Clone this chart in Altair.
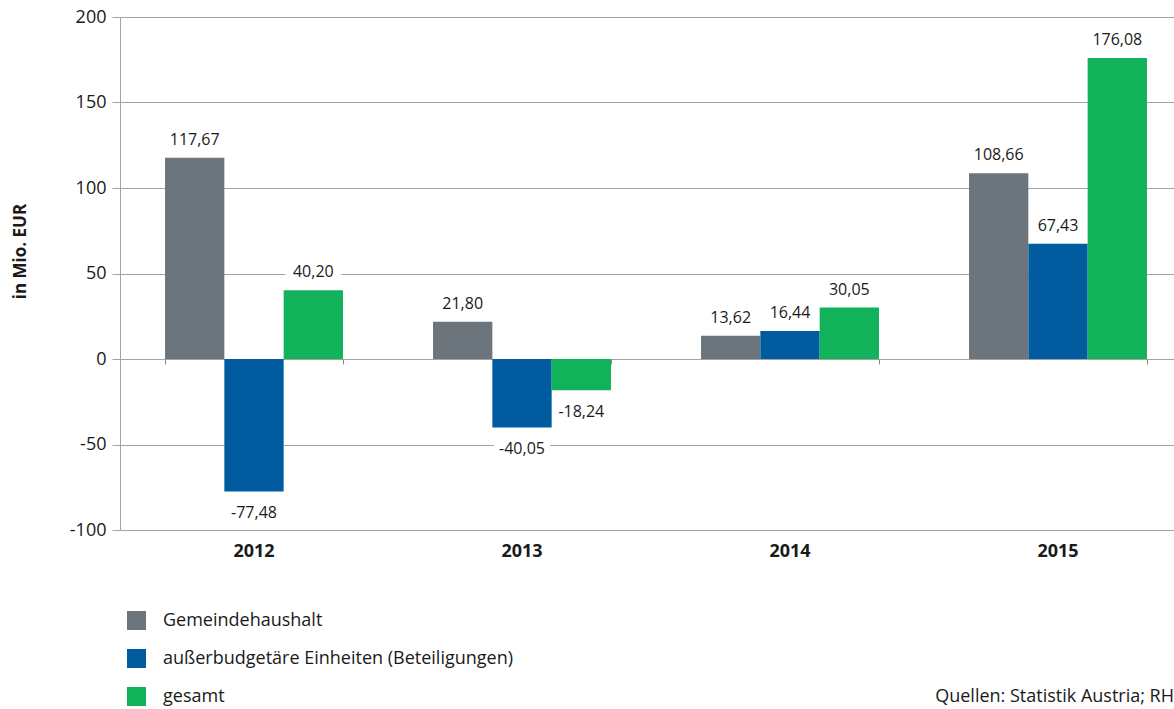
import altair as alt
import pandas as pd

years = ["2012", "2013", "2014", "2015"]
series = ["Gemeindehaushalt", "außerbudgetäre Einheiten (Beteiligungen)", "gesamt"]
gemeinde = [117.67, 21.80, 13.62, 108.66]
ausser = [-77.48, -40.05, 16.44, 67.43]
gesamt = [40.20, -18.24, 30.05, 176.08]
colors = ["#6B757B", "#005C9F", "#11B259"]
y_ticks = [-100, -50, 0, 50, 100, 150, 200]
source = "Quellen: Statistik Austria; RH"

rows = []
for s, vals in zip(series, [gemeinde, ausser, gesamt]):
    for yr, v in zip(years, vals):
        rows.append({"Jahr": yr, "Serie": s, "Wert": v,
                     "Label": f"{v:.2f}".replace(".", ",")})
df = pd.DataFrame(rows)

FONT = "Open Sans"
TXT = "#1a1a1a"
GRID = "#a3a3a3"

x_scale = alt.Scale(domain=years, range=[0, 1072], paddingInner=0.336, paddingOuter=0.168)
y_scale = alt.Scale(domain=[-100, 200], nice=False, zero=False)
xo_scale = alt.Scale(domain=series, paddingInner=0, paddingOuter=0)
color_scale = alt.Scale(domain=series, range=colors)

base = alt.Chart(df)

y_enc = alt.Y("Wert:Q", scale=y_scale,
              axis=alt.Axis(values=y_ticks, title="in Mio. EUR", grid=True,
                            labelExpr="'' + datum.value",
                            gridColor=GRID, gridWidth=1, domainColor=GRID,
                            tickColor=GRID, tickSize=8, labelPadding=6,
                            labelFontSize=18, labelFont=FONT, labelColor=TXT,
                            titleFont=FONT, titleFontSize=17, titleFontWeight="bold",
                            titleColor=TXT, titleX=-100, titleY=234,
                            titleAngle=-90, titleAlign="center", titleBaseline="middle"))

bars = base.mark_bar().encode(
    x=alt.X("Jahr:N", scale=x_scale, sort=years,
            axis=alt.Axis(title=None, domain=False, ticks=False, tickSize=0,
                          labelPadding=12, labelFontSize=18, labelFont=FONT,
                          labelFontWeight="bold", labelColor=TXT, labelAngle=0,
                          labelBaseline="top", orient="bottom")),
    xOffset=alt.XOffset("Serie:N", scale=xo_scale, sort=series),
    y=y_enc,
    color=alt.Color("Serie:N", scale=color_scale, sort=series,
                    legend=alt.Legend(title=None, orient="none", legendX=7, legendY=594,
                                      direction="vertical", symbolType="square",
                                      symbolSize=361, symbolStrokeWidth=0,
                                      symbolOpacity=1, labelFontSize=18, labelFont=FONT,
                                      labelColor=TXT, labelOffset=17, rowPadding=19,
                                      padding=0, labelLimit=600)),
)

box_shape = "M-1,-0.46L1,-0.46L1,0.46L-1,0.46Z"

boxes_pos = base.transform_filter("datum.Wert >= 0").mark_point(
    shape=box_shape, size=3136, filled=True, color="white", opacity=1, yOffset=-18
).encode(
    x=alt.X("Jahr:N", scale=x_scale, sort=years,
            axis=alt.Axis(title=None, labels=False, domain=False, ticks=True,
                          tickBand="extent", tickSize=5, tickColor="#888888",
                          tickWidth=1, orient="bottom", offset=-171)),
    xOffset=alt.XOffset("Serie:N", scale=xo_scale, sort=series),
    y=alt.Y("Wert:Q", scale=y_scale),
)
boxes_neg = base.transform_filter("datum.Wert < 0").mark_point(
    shape=box_shape, size=3136, filled=True, color="white", opacity=1, yOffset=22
).encode(
    x=alt.X("Jahr:N", scale=x_scale, sort=years, axis=None),
    xOffset=alt.XOffset("Serie:N", scale=xo_scale, sort=series),
    y=alt.Y("Wert:Q", scale=y_scale),
)

labels_pos = base.transform_filter("datum.Wert >= 0").mark_text(
    font=FONT, fontSize=16, color=TXT, baseline="middle", align="center", dy=-18
).encode(
    x=alt.X("Jahr:N", scale=x_scale, sort=years, axis=None),
    xOffset=alt.XOffset("Serie:N", scale=xo_scale, sort=series),
    y=alt.Y("Wert:Q", scale=y_scale),
    text="Label:N",
)
labels_neg = base.transform_filter("datum.Wert < 0").mark_text(
    font=FONT, fontSize=16, color=TXT, baseline="middle", align="center", dy=22
).encode(
    x=alt.X("Jahr:N", scale=x_scale, sort=years, axis=None),
    xOffset=alt.XOffset("Serie:N", scale=xo_scale, sort=series),
    y=alt.Y("Wert:Q", scale=y_scale),
    text="Label:N",
)

src = alt.Chart(pd.DataFrame({"t": [source]})).mark_text(
    font=FONT, fontSize=18, color=TXT, align="right", baseline="middle"
).encode(text="t:N", x=alt.value(1054), y=alt.value(680))

chart = alt.layer(boxes_pos, boxes_neg, bars, labels_pos, labels_neg, src).resolve_axis(
    x="independent"
).properties(
    width=1054, height=513,
    autosize=alt.AutoSizeParams(type="none"),
    padding={"left": 120, "top": 17, "right": 0, "bottom": 179},
).configure_view(stroke=None).configure(background="white")

chart.save("out.html", embed_options={"renderer": "svg", "actions": False})
